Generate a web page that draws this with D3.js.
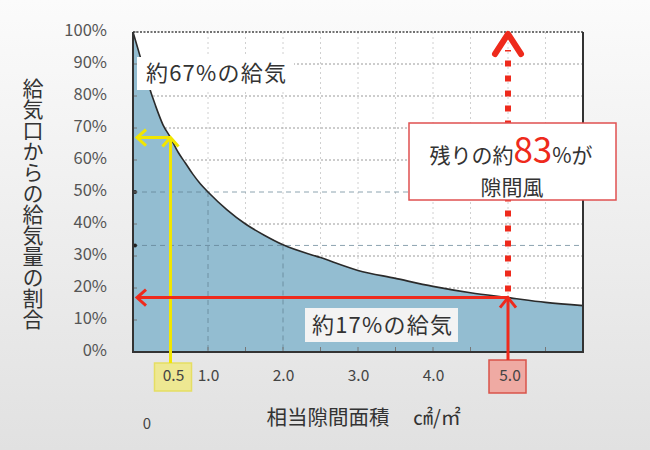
<!DOCTYPE html>
<html><head><meta charset="utf-8">
<script src="https://cdn.jsdelivr.net/npm/d3@7/dist/d3.min.js"></script>
<style>
html,body{margin:0;padding:0;background:#fff;}
svg{display:block;font-family:"Noto Sans CJK JP","Noto Sans",sans-serif;}
</style></head>
<body><svg id="c" width="650" height="450"></svg>
<script>
// ---- data ----
const gapArea = [0,0.1,0.2,0.3,0.4,0.5,0.6,0.7,0.8,0.9,1.0,1.25,1.5,1.75,2.0,2.5,3.0,3.5,4.0,4.5,5.0,5.5,6.0];
const supplyPct = [100,92,84,77,71,67,62.5,59,55.5,52.5,50,44.5,40,36.5,33.5,29.5,25.5,23,20.5,18.5,17,15.5,14.5];
const xTicks = [0.5,1.0,2.0,3.0,4.0,5.0];
const yTicks = [0,10,20,30,40,50,60,70,80,90,100];
const dottedGrid = [20,30,40,60,70,80,90];
const dashedGrid = [50,33.3];
const vGrid = [1.0,1.5,2.0,2.5,3.0,3.5,4.0,4.5,5.0,5.5];
const yTitle = "給気口からの給気量の割合";
const xTitle = "相当隙間面積";
const xUnit = "㎠/㎡";
const markA = {x:0.5, y:67, label:"約67%の給気"};
const markB = {x:5.0, y:17, label:"約17%の給気"};
const restLabel = ["残りの約","83","%が"];
const restLabel2 = "隙間風";

const svg = d3.select("#c");
const defs = svg.append("defs");
const bg = defs.append("linearGradient").attr("id","bg").attr("x1",0).attr("y1",0).attr("x2",0).attr("y2",1);
bg.append("stop").attr("offset","0%").attr("stop-color","#fbfbfb");
bg.append("stop").attr("offset","100%").attr("stop-color","#e1e1e1");
svg.append("rect").attr("width",650).attr("height",450).attr("fill","url(#bg)");

const L=133,R=583,T=32,B=352;
const x = d3.scaleLinear().domain([0,6]).range([L,R]);
const y = d3.scaleLinear().domain([0,100]).range([B,T]);

// plot background
svg.append("rect").attr("x",L).attr("y",T).attr("width",R-L).attr("height",B-T).attr("fill","#ffffff");

// light vertical grid
svg.append("g").selectAll("line").data(vGrid).join("line")
  .attr("x1",d=>x(d)).attr("x2",d=>x(d)).attr("y1",T).attr("y2",B)
  .attr("stroke","#d0d0d0").attr("stroke-width",1).attr("stroke-dasharray","2,3");
// dotted horizontal grid
svg.append("g").selectAll("line").data(dottedGrid).join("line")
  .attr("x1",L).attr("x2",R).attr("y1",d=>y(d)).attr("y2",d=>y(d))
  .attr("stroke","#9a9a9a").attr("stroke-width",1).attr("stroke-dasharray","2,2");

const pts = gapArea.map((g,i)=>[g,supplyPct[i]]);
const area = d3.area().x(d=>x(d[0])).y0(B).y1(d=>y(d[1])).curve(d3.curveMonotoneX);
const line = d3.line().x(d=>x(d[0])).y(d=>y(d[1])).curve(d3.curveMonotoneX);
svg.append("path").datum(pts).attr("d",area).attr("fill","#93bdd1");

// dashed guide lines
svg.append("g").selectAll("line").data(dashedGrid).join("line")
  .attr("x1",L).attr("x2",R).attr("y1",d=>y(d)).attr("y2",d=>y(d))
  .attr("stroke","#5f7f90").attr("stroke-width",1).attr("stroke-dasharray","5,4").attr("opacity",0.7);
svg.append("g").selectAll("line").data([[1.0,50],[2.0,33.3]]).join("line")
  .attr("x1",d=>x(d[0])).attr("x2",d=>x(d[0])).attr("y1",d=>y(d[1])).attr("y2",B)
  .attr("stroke","#5f7f90").attr("stroke-width",1).attr("stroke-dasharray","5,4").attr("opacity",0.7);
svg.append("g").selectAll("circle").data(dashedGrid).join("circle")
  .attr("cx",L+2).attr("cy",d=>y(d)).attr("r",2).attr("fill","#222");

// left minor ticks and bottom ticks
svg.append("g").selectAll("line").data(yTicks).join("line")
  .attr("x1",L).attr("x2",L+4).attr("y1",d=>y(d)).attr("y2",d=>y(d)).attr("stroke","#777");
svg.append("g").selectAll("line").data(vGrid.concat([0.5])).join("line")
  .attr("x1",d=>x(d)).attr("x2",d=>x(d)).attr("y1",B).attr("y2",B-5).attr("stroke","#777");

// curve
svg.append("path").datum(pts).attr("d",line).attr("fill","none").attr("stroke","#2a2a2a").attr("stroke-width",1.6);

// frame
svg.append("line").attr("x1",L).attr("x2",R).attr("y1",T).attr("y2",T).attr("stroke","#444").attr("stroke-width",1.5).attr("stroke-dasharray","2,1.5");
svg.append("path").attr("d",`M${L},${T}V${B}H${R}V${T}`).attr("fill","none").attr("stroke","#333").attr("stroke-width",2);

// axes
const ya = svg.append("g").attr("transform",`translate(${L},-2)`)
  .call(d3.axisLeft(y).tickValues(yTicks).tickSize(0).tickPadding(26).tickFormat(d=>d+"%"));
ya.select(".domain").remove();
ya.selectAll("text").attr("font-size",16.5).attr("fill","#555").attr("font-family","'Noto Sans CJK JP',sans-serif");

// highlight boxes under x labels
svg.append("rect").attr("x",x(markA.x)-16).attr("y",363).attr("width",37).attr("height",28)
  .attr("fill","#efe98a").attr("stroke","#e6de55").attr("stroke-width",1.5).attr("opacity",0.9);
svg.append("rect").attr("x",x(markB.x)-19).attr("y",360).attr("width",37).attr("height",33)
  .attr("fill","#efaaa3").attr("stroke","#d9534a").attr("stroke-width",1.5);

const xa = svg.append("g").attr("transform",`translate(0,${B})`)
  .call(d3.axisBottom(x).tickValues(xTicks).tickSize(0).tickPadding(18).tickFormat(d3.format(".1f")));
xa.select(".domain").remove();
xa.selectAll("text").attr("font-size",15.5).attr("fill","#444").attr("font-family","'Noto Sans CJK JP',sans-serif");
xa.selectAll(".tick").filter(d=>d===markA.x).attr("transform",`translate(${x(markA.x)+3},0)`);
xa.selectAll(".tick").filter(d=>d===markB.x).attr("transform",`translate(${x(markB.x)+2},0)`);

svg.append("text").attr("x",147).attr("y",429).attr("text-anchor","middle").attr("font-size",15).attr("fill","#444").text("0");

// titles
svg.append("text").attr("x",33).attr("y",78).attr("writing-mode","vertical-rl")
  .attr("font-size",21).attr("fill","#333").text(yTitle);
svg.append("text").attr("x",328).attr("y",425).attr("text-anchor","middle").attr("font-size",20.5).attr("fill","#333").text(xTitle);
svg.append("text").attr("x",413).attr("y",425).attr("font-size",20).attr("fill","#333").text(xUnit);

// label A
svg.append("rect").attr("x",137).attr("y",57).attr("width",157).attr("height",33).attr("fill","#fff");
svg.append("text").attr("x",146).attr("y",81).attr("font-size",22).attr("letter-spacing",1.2).attr("fill","#333").text(markA.label);

// yellow arrows
const yel="#f2e600";
const ax=x(markA.x), ay=y(markA.y);
svg.append("line").attr("x1",ax).attr("x2",ax).attr("y1",363).attr("y2",ay).attr("stroke",yel).attr("stroke-width",3);
svg.append("line").attr("x1",ax).attr("x2",L+4).attr("y1",ay).attr("y2",ay).attr("stroke",yel).attr("stroke-width",3);
svg.append("path").attr("d",`M${ax-8},${ay+9}L${ax},${ay}L${ax+8},${ay+9}`).attr("fill","none").attr("stroke",yel).attr("stroke-width",3);
svg.append("path").attr("d",`M${L+13},${ay-8}L${L+4},${ay}L${L+13},${ay+8}`).attr("fill","none").attr("stroke",yel).attr("stroke-width",3);

// label B
svg.append("rect").attr("x",305).attr("y",308).attr("width",153).attr("height",34).attr("fill","#f3f3f3");
svg.append("text").attr("x",312).attr("y",333).attr("font-size",22).attr("letter-spacing",1.2).attr("fill","#333").text(markB.label);

// red arrows
const red="#ee2a1c";
const bx=x(markB.x), by=y(markB.y);
svg.append("line").attr("x1",bx).attr("x2",L+4).attr("y1",by).attr("y2",by).attr("stroke",red).attr("stroke-width",3);
svg.append("path").attr("d",`M${L+13},${by-8}L${L+4},${by}L${L+13},${by+8}`).attr("fill","none").attr("stroke",red).attr("stroke-width",3);
svg.append("line").attr("x1",bx).attr("x2",bx).attr("y1",360).attr("y2",by).attr("stroke",red).attr("stroke-width",3);
svg.append("path").attr("d",`M${bx-8},${by+10}L${bx},${by}L${bx+8},${by+10}`).attr("fill","none").attr("stroke",red).attr("stroke-width",3);
svg.append("line").attr("x1",bx).attr("x2",bx).attr("y1",by-6).attr("y2",y(100)+18).attr("stroke",red).attr("stroke-width",6).attr("stroke-dasharray","6,9");
svg.append("path").attr("d",`M${bx-13},${y(100)+22}L${bx},${y(100)+2}L${bx+13},${y(100)+22}`).attr("fill","none").attr("stroke",red).attr("stroke-width",6).attr("stroke-linejoin","round").attr("stroke-linecap","round");

// red box
svg.append("rect").attr("x",409).attr("y",123).attr("width",207).attr("height",77).attr("fill","#fff").attr("stroke","#e05050").attr("stroke-width",1.5);
const t1 = svg.append("text").attr("x",511).attr("y",163).attr("text-anchor","middle").attr("font-size",21).attr("fill","#333");
t1.append("tspan").text(restLabel[0]);
t1.append("tspan").attr("font-size",35).attr("fill",red).text(restLabel[1]);
t1.append("tspan").text(restLabel[2]);
svg.append("text").attr("x",512).attr("y",195).attr("text-anchor","middle").attr("font-size",21).attr("fill","#333").text(restLabel2);
</script></body></html>
